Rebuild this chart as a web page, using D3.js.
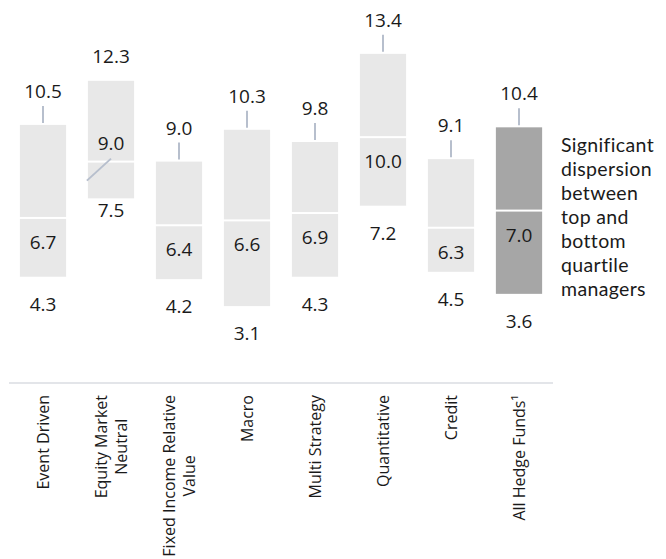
<!DOCTYPE html>
<html>
<head>
<meta charset="utf-8">
<script src="https://cdn.jsdelivr.net/npm/d3@7"></script>
<style>
  body { margin: 0; background: #fff; }
  text { font-family: "Open Sans", "Noto Sans", sans-serif; fill: #1a1a1a; }
</style>
</head>
<body>
<svg id="chart" width="666" height="559"></svg>
<script>
// hedge fund strategy quartiles (bottom, median, top)
var categories = ["Event Driven", "Equity Market\nNeutral", "Fixed Income Relative\nValue",
	"Macro", "Multi Strategy", "Quantitative", "Credit", "All Hedge Funds\u00b9"];
var bottomQ = [4.3, 7.5, 4.2, 3.1, 4.3, 7.2, 4.5, 3.6];
var median  = [6.7, 9.0, 6.4, 6.6, 6.9, 10.0, 6.3, 7.0];
var topQ    = [10.5, 12.3, 9.0, 10.3, 9.8, 13.4, 9.1, 10.4];
var note = ["Significant", "dispersion", "between", "top and", "bottom", "quartile", "managers"];

// the one box that is too short to hold its labels the normal way
var squeezed = "Equity Market\nNeutral";
var highlight = "All Hedge Funds\u00b9";

var data = categories.map(function(c, i){
	return {name: c, lo: bottomQ[i], mid: median[i], hi: topQ[i]};
});

var svg = d3.select("#chart");

var x = d3.scaleBand()
			.domain(categories)
			.range([9, 553])
			.paddingInner(0.32)
			.paddingOuter(0.16);

var y = d3.scaleLinear()
			.domain([0, 15.6])
			.range([382, 0]);

var bw = x.bandwidth();
function cx(d){ return x(d.name) + bw / 2; }
function fill(d){ return d.name == highlight ? "#a6a6a6" : "#e8e8e8"; }

// upper box: median -> top quartile
svg.selectAll(".upper")
	.data(data)
	.enter().append("rect")
	.attr("class", "upper")
	.attr("x", function(d){ return x(d.name); })
	.attr("width", bw)
	.attr("y", function(d){ return y(d.hi); })
	.attr("height", function(d){ return y(d.mid) - y(d.hi) - 1; })
	.style("fill", fill);

// lower box: bottom quartile -> median
svg.selectAll(".lower")
	.data(data)
	.enter().append("rect")
	.attr("class", "lower")
	.attr("x", function(d){ return x(d.name); })
	.attr("width", bw)
	.attr("y", function(d){ return y(d.mid) + 1; })
	.attr("height", function(d){ return y(d.lo) - y(d.mid) - 1; })
	.style("fill", fill);

// baseline
svg.append("line")
	.attr("x1", x.range()[0]).attr("x2", x.range()[1])
	.attr("y1", y(0) + 1).attr("y2", y(0) + 1)
	.style("stroke", "#e3e5e9")
	.style("stroke-width", 2);

var fmt = d3.format(".1f");
var leader = "#b7bfcd";

// top quartile labels + leader lines
svg.selectAll(".top-label")
	.data(data)
	.enter().append("text")
	.attr("class", "top-label")
	.attr("x", cx)
	.attr("y", function(d){ return y(d.hi) - (d.name == squeezed ? 18 : 27); })
	.attr("text-anchor", "middle")
	.style("font-size", "19px")
	.text(function(d){ return fmt(d.hi); });

svg.selectAll(".top-leader")
	.data(data.filter(function(d){ return d.name != squeezed; }))
	.enter().append("line")
	.attr("x1", cx).attr("x2", cx)
	.attr("y1", function(d){ return y(d.hi) - 19; })
	.attr("y2", function(d){ return y(d.hi) - 2; })
	.style("stroke", leader)
	.style("stroke-width", 2);

// median labels
svg.selectAll(".mid-label")
	.data(data)
	.enter().append("text")
	.attr("class", "mid-label")
	.attr("x", cx)
	.attr("y", function(d){ return d.name == squeezed ? y(d.mid) - 12 : y(d.mid) + 31; })
	.attr("text-anchor", "middle")
	.style("font-size", "19px")
	.text(function(d){ return fmt(d.mid); });

// the squeezed median label sits above the divider with a pointer
data.filter(function(d){ return d.name == squeezed; }).forEach(function(d){
	svg.append("line")
		.attr("x1", x(d.name) - 1).attr("y1", y(d.mid) + 19)
		.attr("x2", cx(d)).attr("y2", y(d.mid) - 3)
		.style("stroke", leader)
		.style("stroke-width", 2);
});

// bottom quartile labels
svg.selectAll(".low-label")
	.data(data)
	.enter().append("text")
	.attr("class", "low-label")
	.attr("x", cx)
	.attr("y", function(d){ return y(d.lo) + (d.name == squeezed ? 19 : 34); })
	.attr("text-anchor", "middle")
	.style("font-size", "19px")
	.text(function(d){ return fmt(d.lo); });

// category labels, rotated, block ends just under the baseline
var labelTop = y(0) + 13;
var lineGap = 20;
data.forEach(function(d){
	var lines = d.name.split("\n");
	var g = svg.append("g")
		.attr("transform", "translate(" + cx(d) + "," + labelTop + ") rotate(-90)");
	var t = g.selectAll("text")
		.data(lines)
		.enter().append("text")
		.attr("text-anchor", "middle")
		.attr("y", function(l, i){ return 6 + (i - (lines.length - 1) / 2) * lineGap; })
		.style("font-size", "16px")
		.text(function(l){ return l; });
	var longest = 0;
	t.each(function(){ longest = Math.max(longest, this.getComputedTextLength()); });
	t.attr("x", -longest / 2);
});

// side note
svg.append("text")
	.attr("x", 561)
	.attr("y", 152)
	.style("font-family", "Lato, 'Open Sans', sans-serif")
	.style("font-size", "19.5px")
	.style("letter-spacing", "0.35px")
	.selectAll("tspan")
	.data(note)
	.enter().append("tspan")
	.attr("x", 561)
	.attr("dy", function(l, i){ return i ? 24 : 0; })
	.text(function(l){ return l; });
</script>
</body>
</html>
